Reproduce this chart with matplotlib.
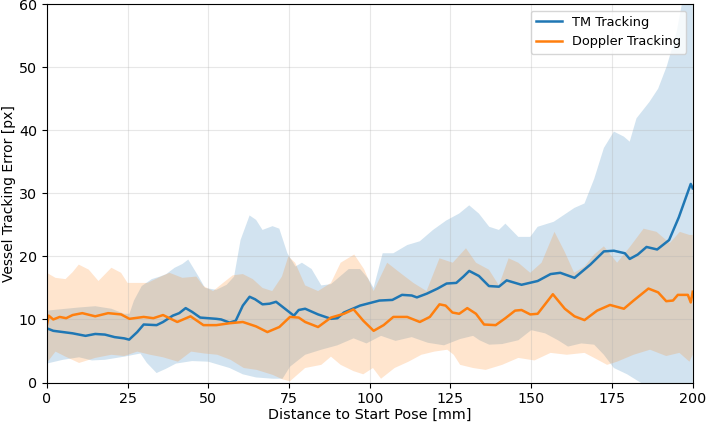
import numpy as np
import matplotlib
matplotlib.use("Agg")
import matplotlib.pyplot as plt

# mean tracking error
tm_x = [0, 2, 5, 8, 12, 15, 18, 21, 24, 25.5, 28, 30, 34, 36, 39, 41, 43, 45, 47.5,
        52.5, 54, 56.6, 58.5, 60.7, 62.8, 64.5, 66.8, 69, 71, 73, 76.5, 78, 80, 84,
        88, 90, 92, 97, 100, 103, 107, 110, 113, 114.6, 117.7, 121, 123.8, 126.8,
        129, 130.8, 133.8, 136.9, 140, 142.4, 147, 152, 156, 159, 163.4, 168.3,
        172.5, 175.6, 179, 180.5, 183, 185.7, 189, 192.7, 195.7, 198, 199.4, 200]
tm_mean = [8.6, 8.2, 8.0, 7.8, 7.4, 7.7, 7.6, 7.2, 7.0, 6.8, 8.0, 9.2, 9.1, 9.6, 10.6,
           11.0, 11.8, 11.2, 10.3, 10.1, 10.0, 9.5, 9.8, 12.2, 13.6, 13.2, 12.4, 12.5,
           12.8, 12.0, 10.6, 11.5, 11.7, 10.8, 10.1, 10.2, 11.1, 12.2, 12.6, 13.0,
           13.1, 13.9, 13.8, 13.5, 14.1, 14.9, 15.7, 15.8, 16.8, 17.7, 16.9, 15.3,
           15.2, 16.2, 15.5, 16.1, 17.2, 17.4, 16.6, 18.7, 20.8, 20.9, 20.5, 19.6,
           20.3, 21.5, 21.1, 22.6, 26.2, 29.5, 31.5, 30.8]

dop_x = [0, 0.6, 2, 4, 6, 8, 11, 15, 19, 23, 25.6, 30, 33, 36, 40.4, 44.5, 48.5, 52.5,
         56.6, 60.7, 64.8, 68.3, 72, 75.3, 78, 80, 84, 88, 92, 95, 98, 101.2, 104.3,
         107.3, 111.6, 115.5, 118.6, 121.6, 123.5, 125.6, 127.7, 130.2, 132.9, 135.4,
         139, 142, 145, 147, 149.7, 152, 156.7, 160.4, 163.4, 166.5, 170.4, 174.4,
         178.7, 181.7, 186.3, 189.3, 191.8, 193.9, 195.4, 198.5, 199.4, 200]
dop_mean = [9.0, 10.6, 10.0, 10.4, 10.2, 10.7, 11.0, 10.5, 11.0, 10.8, 10.1, 10.4,
            10.2, 10.7, 9.6, 10.5, 9.1, 9.1, 9.4, 9.6, 8.9, 8.0, 8.8, 10.4, 10.3, 9.6,
            8.8, 10.3, 10.9, 11.6, 9.8, 8.2, 9.1, 10.4, 10.4, 9.6, 10.4, 12.4, 12.2,
            11.1, 10.9, 11.8, 10.9, 9.2, 9.1, 10.2, 11.4, 11.5, 10.8, 10.9, 14.0, 11.7,
            10.5, 9.9, 11.4, 12.3, 11.7, 13.0, 14.9, 14.3, 12.9, 13.0, 13.9, 13.9,
            12.7, 14.4]

# spread bands (upper / lower edges)
tm_up_x = [0, 6, 10, 15, 20, 24, 25.6, 27, 29.4, 32.5, 35, 37, 39.6, 42, 43.8, 47, 49,
           52.5, 55.7, 58, 60, 62.8, 64.8, 66.8, 69.9, 72, 74.5, 77, 79, 82, 85, 88,
           93.5, 97, 99.5, 101.2, 104, 107.3, 111.6, 115.5, 119.6, 123.7, 127.7, 130.8,
           133.8, 137, 140, 142, 146, 149.7, 152, 157, 163.4, 166.5, 169.5, 172.5,
           175.6, 178.7, 180.5, 182.6, 186.6, 189.3, 192, 195, 197, 200]
tm_up = [11.4, 11.7, 11.9, 12.1, 11.7, 10.9, 10.9, 13.0, 15.3, 16.4, 16.8, 17.2, 18.2,
         18.8, 19.5, 16.8, 15.0, 14.7, 15.5, 16.8, 22.6, 26.5, 25.8, 24.2, 24.8, 24.4,
         20.5, 18.4, 19.0, 18.0, 15.4, 15.6, 18.0, 18.0, 16.5, 15.0, 20.5, 20.5, 21.8,
         22.4, 24.2, 25.7, 26.8, 28.1, 26.8, 24.7, 24.2, 25.2, 23.1, 23.1, 24.7, 25.5,
         27.7, 28.4, 32.3, 37.2, 39.8, 39.0, 38.2, 41.9, 44.5, 46.6, 50.2, 55.5, 61.0,
         66.0]

tm_lo_x = [0, 5, 10, 14, 18, 24, 29, 31, 34, 37, 40, 45, 50, 56.6, 60.7, 64.8, 70, 73,
           75.3, 80, 85, 90, 95, 99, 103.5, 108, 113, 118, 123, 128, 132, 134, 137,
           141, 146, 150, 154.3, 158.3, 161.4, 165.5, 169.5, 172.5, 175.6, 179.7,
           183.8, 190, 200]
tm_lo = [3.0, 3.6, 4.0, 3.5, 3.6, 4.1, 4.6, 3.1, 1.5, 2.2, 3.0, 3.4, 3.3, 2.3, 1.3, 0.8,
         0.6, 0.6, 2.5, 4.4, 5.2, 5.9, 7.0, 6.2, 7.4, 6.6, 7.2, 6.3, 5.9, 6.9, 7.4, 6.7,
         6.0, 6.1, 6.7, 8.3, 7.8, 6.7, 5.7, 6.2, 6.0, 4.4, 2.3, 1.3, 0.0, -2.0, -4.0]

dop_up_x = [0, 2.7, 5.8, 8, 9.9, 13, 16, 20, 23, 25, 31.2, 35.3, 38, 42, 46.3, 48.5,
            51.5, 54.6, 57.6, 60.7, 63.8, 66.8, 69.8, 72.8, 74.8, 76.9, 80, 84, 88, 91,
            95.2, 98.2, 101.2, 105.4, 109.4, 113.5, 117.6, 121.6, 125.7, 129.8, 132.9,
            136.9, 140, 143, 146, 149.7, 153.2, 157.2, 160.3, 163.3, 166.5, 169.5,
            172.5, 176.6, 180.7, 184.8, 188.8, 192.9, 196, 199, 200]
dop_up = [17.4, 16.6, 16.4, 17.5, 18.7, 17.9, 16.1, 18.2, 17.4, 15.8, 15.8, 16.8, 17.4,
          16.6, 16.8, 15.3, 14.5, 15.8, 17.0, 17.2, 16.4, 15.0, 14.5, 16.8, 20.0, 19.0,
          15.4, 14.5, 15.8, 19.0, 20.3, 18.0, 14.5, 19.0, 17.4, 15.8, 14.5, 19.7, 19.0,
          21.3, 19.0, 17.9, 15.4, 19.7, 19.0, 17.4, 19.0, 23.9, 20.8, 17.4, 18.4, 20.3,
          21.6, 19.0, 21.6, 24.4, 23.9, 22.1, 23.9, 23.4, 23.4]

dop_lo_x = [0, 2.7, 5.8, 10, 15, 20, 24, 28, 32, 36, 40.6, 44.7, 48.8, 52.8, 56.9, 61,
            65, 70, 73, 75.3, 80, 85, 88, 91, 95, 98, 101, 103.5, 107.7, 112, 116, 120,
            124, 126, 128, 132, 135.9, 141, 146, 151, 156, 161, 166.5, 169.5, 173.5,
            176.6, 181.7, 186.8, 191.8, 195.9, 199, 200]
dop_lo = [3.1, 4.9, 4.1, 3.1, 3.9, 4.4, 4.2, 4.9, 4.4, 4.0, 3.3, 4.9, 4.6, 4.4, 3.6, 2.3,
          2.0, 1.2, 0.5, 0.2, 2.3, 2.8, 4.1, 2.8, 1.8, 1.3, 2.3, 0.6, 2.3, 3.3, 4.4, 4.9,
          5.2, 4.4, 2.8, 2.3, 2.0, 2.8, 3.9, 3.5, 4.7, 4.4, 4.7, 3.9, 2.8, 3.3, 4.4, 5.2,
          4.2, 4.7, 3.3, 4.4]


def band(ax, xu, yu, xl, yl, color):
    # polygon: upper edge left->right, lower edge right->left
    px = np.concatenate([xu, np.asarray(xl)[::-1]])
    py = np.concatenate([yu, np.asarray(yl)[::-1]])
    ax.fill(px, py, color=color, alpha=0.2, linewidth=0)


fig, ax = plt.subplots(figsize=(7.09, 4.25), dpi=100)
fig.subplots_adjust(left=0.066, right=0.977, top=0.99, bottom=0.1)

band(ax, tm_up_x, tm_up, tm_lo_x, tm_lo, "C0")
band(ax, dop_up_x, dop_up, dop_lo_x, dop_lo, "C1")
ax.plot(tm_x, tm_mean, color="C0", linewidth=1.8, label="TM Tracking")
ax.plot(dop_x, dop_mean, color="C1", linewidth=1.8, label="Doppler Tracking")

ax.set_xlim(0, 200)
ax.set_ylim(0, 60)
ax.set_xticks(np.arange(0, 201, 25))
ax.set_yticks(np.arange(0, 61, 10))
ax.tick_params(labelsize=10.3)
ax.grid(True, alpha=0.3)
ax.set_xlabel("Distance to Start Pose [mm]", fontsize=10.4, labelpad=1)
ax.set_ylabel("Vessel Tracking Error [px]", fontsize=10, labelpad=2)
ax.legend(loc="upper right", fontsize=9.3)

plt.savefig("out.png", dpi=100)
plt.close()
